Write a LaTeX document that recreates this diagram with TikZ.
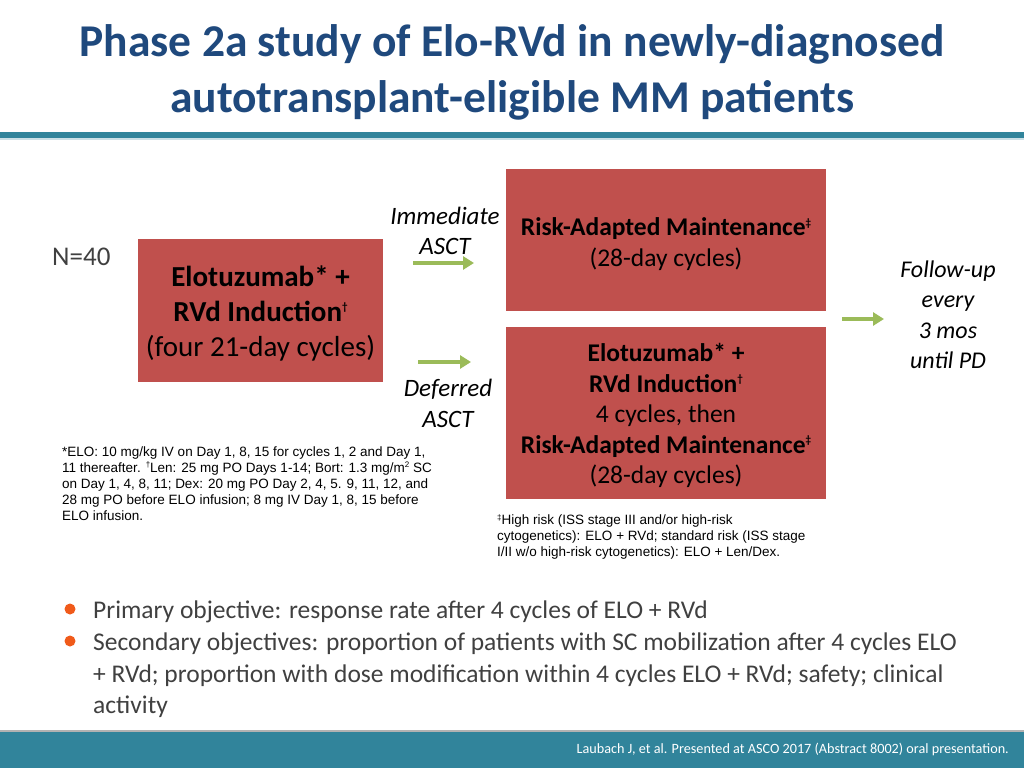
\documentclass[tikz,border=0pt]{standalone}
\usepackage{fontspec}
\setmainfont{Carlito}
\newfontfamily\arialf{Liberation Sans}
\usetikzlibrary{arrows.meta}
\definecolor{boxred}{RGB}{192,80,77}
\definecolor{arrgreen}{RGB}{155,187,89}
\definecolor{teal}{RGB}{49,132,155}
\definecolor{titleblue}{RGB}{31,73,125}
\definecolor{bodygray}{RGB}{64,64,64}
\definecolor{bulorange}{RGB}{240,90,26}
\newcommand{\smsup}[1]{\raisebox{0.75ex}{\fontsize{11}{11}\selectfont #1}}
\newcommand{\fnsup}[1]{\raisebox{0.7ex}{\fontsize{8}{8}\selectfont #1}}
\tikzset{
  redbox/.style={fill=boxred,draw=none,inner sep=0pt},
  boxtext/.style={inner sep=0pt,align=center,text=black},
  garrow/.style={draw=arrgreen,line width=4pt,-{Triangle[length=11pt,width=13pt]}},
  armlabel/.style={align=center,inner sep=0pt,text=black},
  fnote/.style={align=left,inner sep=0pt,font=\arialf\fontsize{13.5}{16}\selectfont,text=black},
  bullettext/.style={anchor=base west,inner sep=0pt,font=\fontsize{25.5}{32}\selectfont,text=bodygray},
}
\begin{document}
\begin{tikzpicture}[x=1pt,y=-1pt]
\useasboundingbox (0,0) rectangle (1024,768);
\fill[white] (0,0) rectangle (1024,768);
% title
\node[inner sep=0pt,align=center,text=titleblue,font=\fontsize{45.5}{56}\selectfont\bfseries] (title) at (512,72)
  {Phase 2a study of Elo-RVd in newly-diagnosed\\autotransplant-eligible MM patients};
\fill[teal] (0,132) rectangle (1024,138);
\fill[teal!25] (0,138) rectangle (1024,139.5);
% N=40
\node[anchor=base west,inner sep=0pt,text=bodygray,font=\fontsize{27}{30}\selectfont] (n40) at (52,265) {N=40};
% boxes
\node[redbox,minimum width=245pt,minimum height=143pt] (ind) at (260.5,310.5) {};
\node[redbox,minimum width=320pt,minimum height=142pt] (maint) at (666,240) {};
\node[redbox,minimum width=320pt,minimum height=172pt] (def) at (666,413) {};
\node[boxtext,font=\fontsize{29}{35}\selectfont] (indt) at ([yshift=-2.5pt]ind.center)
  {\textbf{Elotuzumab* +}\\\textbf{RVd Induction\smsup{†}}\\(four 21-day cycles)};
\node[boxtext,font=\fontsize{25.5}{30.5}\selectfont] (maintt) at ([yshift=-4pt]maint.center)
  {\textbf{Risk-Adapted Maintenance\smsup{‡}}\\(28-day cycles)};
\node[boxtext,font=\fontsize{25.5}{30.5}\selectfont] (deft) at ([yshift=-2.5pt]def.center)
  {\textbf{Elotuzumab* +}\\\textbf{RVd Induction\smsup{†}}\\4 cycles, then\\\textbf{Risk-Adapted Maintenance\smsup{‡}}\\(28-day cycles)};
% arm labels
\node[armlabel,font=\fontsize{25}{30.5}\selectfont\itshape] (imm) at (445,231) {Immediate\\ASCT};
\node[armlabel,font=\fontsize{25}{30.5}\selectfont\itshape] (dfl) at (448,403.5) {Deferred\\ASCT};
\node[armlabel,font=\fontsize{24}{30.5}\selectfont\itshape] (fu) at (948,315) {Follow-up\\every\\3 mos\\until PD};
% arrows
\coordinate (a1s) at (413,263); \coordinate (a1e) at (474,263);
\coordinate (a2s) at (418,362); \coordinate (a2e) at (471,362);
\coordinate (a3s) at (842,319); \coordinate (a3e) at (884,319);
\draw[garrow] (a1s) -- (a1e);
\draw[garrow] (a2s) -- (a2e);
\draw[garrow] (a3s) -- (a3e);
% footnotes
\node[fnote,anchor=north west] (fn1) at (62,447)
  {*ELO: 10 mg/kg IV on Day 1, 8, 15 for cycles 1, 2 and Day 1,\\
   11 thereafter. \fnsup{†}Len: 25 mg PO Days 1-14; Bort: 1.3 mg/m\fnsup{2} SC\\
   on Day 1, 4, 8, 11; Dex: 20 mg PO Day 2, 4, 5. 9, 11, 12, and\\
   28 mg PO before ELO infusion; 8 mg IV Day 1, 8, 15 before\\
   ELO infusion.};
\node[fnote,anchor=north west] (fn2) at (497,514)
  {\fnsup{‡}High risk (ISS stage III and/or high-risk\\
   cytogenetics): ELO + RVd; standard risk (ISS stage\\
   I/II w/o high-risk cytogenetics): ELO + Len/Dex.};
% bullets
\fill[bulorange] (70,609) circle (5.5pt);
\fill[bulorange] (70,641) circle (5.5pt);
\node[bullettext] (b1) at (93,618) {Primary objective: response rate after 4 cycles of ELO + RVd};
\node[bullettext] (b2) at (93,650)
  {Secondary objectives: proportion of patients with SC mobilization after 4 cycles ELO};
\node[bullettext] (b2b) at (93,682)
  {+ RVd; proportion with dose modification within 4 cycles ELO + RVd; safety; clinical};
\node[bullettext] (b2c) at (93,713) {activity};
% bottom bar
\fill[teal] (0,731) rectangle (1024,768);
\fill[gray!60] (0,730) rectangle (1024,731.5);
\node[anchor=east,inner sep=0pt,text=white,font=\fontsize{14.2}{16}\selectfont] (cite) at (1009,749.5)
  {Laubach J, et al. Presented at ASCO 2017 (Abstract 8002) oral presentation.};
\end{tikzpicture}
\end{document}
